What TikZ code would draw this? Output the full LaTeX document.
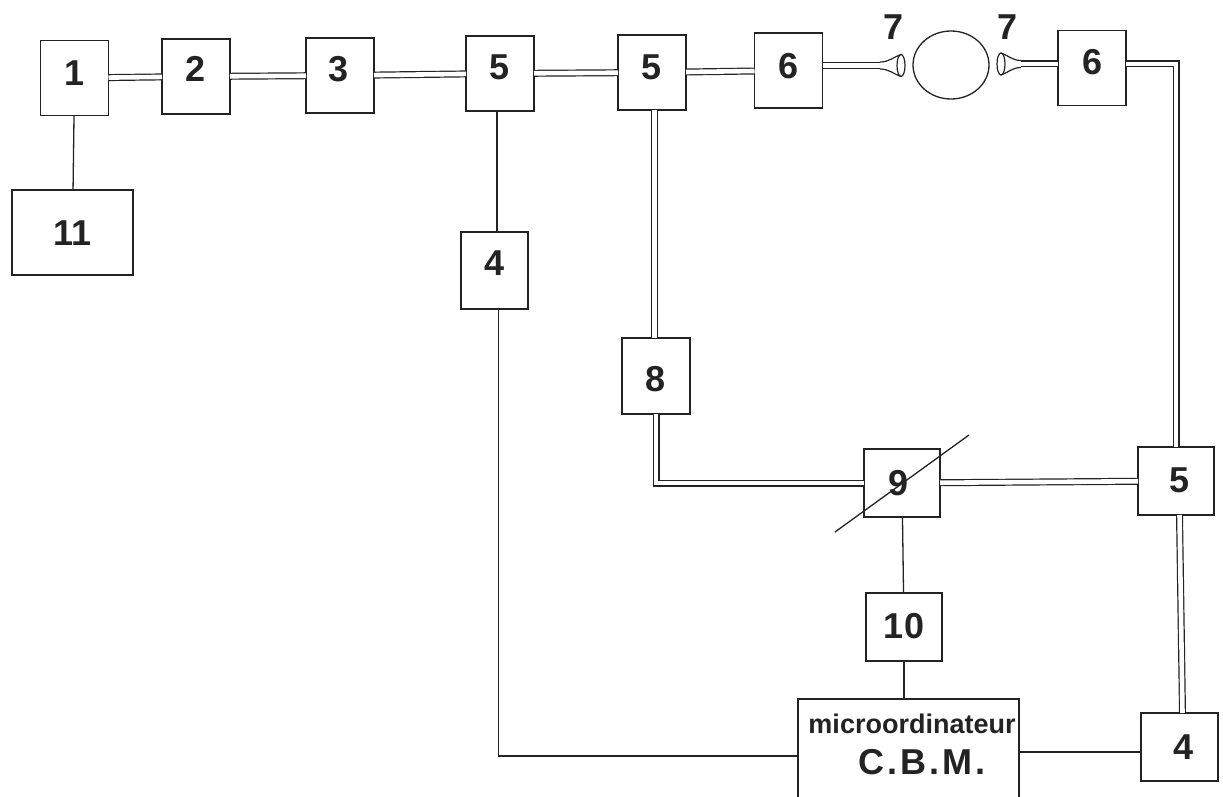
\documentclass[tikz,border=0pt]{standalone}
\usepackage{fontspec}
\setmainfont{Liberation Sans}
\usetikzlibrary{shapes.geometric}

\begin{document}
\begin{tikzpicture}[x=1pt, y=-1pt,
        box/.style={draw=inkgrey, line width=1.3pt, outer sep=0pt, inner sep=0pt, minimum width=68pt, minimum height=75pt, font=\fontsize{36}{38}\selectfont\bfseries, text=inkgrey, text height=25pt, text depth=0pt},
        sqbox/.style={box, minimum width=76pt, minimum height=68pt},
        raised/.style={text depth=#1},
        fibre/.style={draw=inkgrey, double=white, line width=1.2pt, double distance=4.6pt},
        wire/.style={draw=inkgrey, line width=1.3pt},
        mouth/.style={ellipse, draw=inkgrey, line width=1.2pt, minimum width=8pt, minimum height=22pt, inner sep=0pt, outer sep=0pt}]
        \definecolor{inkgrey}{RGB}{35,35,35}
        \useasboundingbox (0,0) rectangle (1223,797);

        % Top row
        \node[box, raised=10pt] (laser) at (74.5,78) {1};
        \node[box, raised=15pt] (mod) at (196,76.5) {2};
        \node[box, raised=13pt] (filt) at (340,75.5) {3\kern3pt};
        \node[box, raised=13pt] (splitA) at (500,73.5) {5};
        \node[box, raised=11pt] (splitB) at (652,72.5) {5};
        \node[box, raised=9pt] (lensA) at (788.5,70.5) {6};
        \node[box, raised=12pt] (lensB) at (1092,68) {6};

        % Power supply
        \node[box, minimum width=121pt, minimum height=85pt] (supply) at (72.5,232.5) {11};

        % Detectors and lower blocks
        \node[box, raised=15pt, minimum width=67pt, minimum height=77pt] (detA) at (494.5,270.5) {4};
        \node[box, text height=31pt, minimum height=76pt] (refl) at (656,376) {8};
        \node[sqbox] (atten) at (902,483) {9\kern8pt};
        \node[sqbox, raised=2pt] (splitC) at (1176,481) {\kern6pt 5};
        \node[sqbox, raised=2pt] (ampli) at (904,627) {10};
        \node[box, minimum width=77pt, minimum height=68pt] (detB) at (1179.5,747) {\kern7pt 4};

        % Microcomputer, the box runs to the bottom edge
        \node[draw=inkgrey, line width=1.3pt, outer sep=0pt, minimum width=221pt, minimum height=100pt] (micro) at (908.5,749) {};
        \node[font=\fontsize{27}{29}\selectfont\bfseries, text=inkgrey] (microA) at (912,724) {microordinateur};
        \node[font=\fontsize{36}{38}\selectfont\bfseries, text=inkgrey] (microB) at (922,762) {C\kern3pt.\kern3pt B\kern3pt.\kern3pt M\kern3pt.};

        % Sample and the two fibre ends
        \node[ellipse, draw=inkgrey, line width=1.3pt, minimum width=76pt, minimum height=68pt, inner sep=0pt] (sample) at (951,65) {};
        \node[mouth] (mouthA) at (901,65.5) {};
        \node[mouth] (mouthB) at (1001,64) {};
        \node[font=\fontsize{36}{38}\selectfont\bfseries, text=inkgrey] (sevenA) at (893,27) {7};
        \node[font=\fontsize{36}{38}\selectfont\bfseries, text=inkgrey] (sevenB) at (1007,27) {7};
        \coordinate (hornA) at (880,65.5);
        \coordinate (hornB) at (1021,64);

        % Double lines
        \draw[fibre] (laser) -- (mod);
        \draw[fibre] (mod) -- (filt);
        \draw[fibre] (filt) -- (splitA);
        \draw[fibre] (splitA) -- (splitB);
        \draw[fibre] (splitB) -- (lensA);
        \draw[fibre] ([yshift=5pt]lensA.east) -- (hornA);
        \draw[fibre] (hornB) -- ([yshift=4pt]lensB.west);
        \draw[fibre] ([yshift=4pt]lensB.east) -| (splitC.north);
        \draw[fibre] ([xshift=2.5pt]splitB.south) -- ([xshift=-1.5pt]refl.north);
        \draw[fibre] (refl.south) |- (atten.west);
        \draw[fibre] (atten) -- (splitC);
        \draw[fibre] ([xshift=3.5pt]splitC.south) -- ([xshift=3pt]detB.north);

        % Flared ends
        \draw[wire, line width=1.2pt] ([yshift=3.5pt]hornA) to[out=0, in=200] (mouthA.north);
        \draw[wire, line width=1.2pt] ([yshift=-3.5pt]hornA) to[out=0, in=160] (mouthA.south);
        \draw[wire, line width=1.2pt] ([yshift=3.5pt]hornB) to[out=180, in=-20] (mouthB.north);
        \draw[wire, line width=1.2pt] ([yshift=-3.5pt]hornB) to[out=180, in=20] (mouthB.south);

        % Single lines
        \draw[wire] (laser) -- (supply);
        \draw[wire] ([xshift=-3pt]splitA.south) -- ([xshift=2.5pt]detA.north);
        \draw[wire] ([xshift=4pt]detA.south) |- ([yshift=-7pt]micro.west);
        \draw[wire] (atten) -- (ampli);
        \draw[wire] (ampli) -- (micro.north -| ampli);
        \draw[wire] ([yshift=-3pt]micro.east) -- ([yshift=-3pt]micro.east -| detB.west);

        % Slash across box 9
        \coordinate (slashA) at (835,532);
        \coordinate (slashB) at (969,435);
        \draw[wire] (slashA) -- (slashB);
    \end{tikzpicture}
\end{document}
